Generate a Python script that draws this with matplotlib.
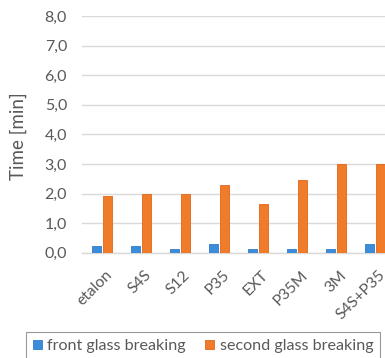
import matplotlib
matplotlib.use("Agg")
import matplotlib.pyplot as plt
import matplotlib.transforms as mtransforms
import numpy as np

categories = ["etalon", "S4S", "S12", "P35", "EXT", "P35M", "3M", "S4S+P35"]
front_glass = [0.23, 0.23, 0.13, 0.30, 0.13, 0.13, 0.13, 0.30]
second_glass = [1.90, 2.00, 2.00, 2.30, 1.65, 2.45, 3.00, 3.00]
y_ticks = [0, 1, 2, 3, 4, 5, 6, 7, 8]
series_names = ["front glass breaking", "second glass breaking"]

plt.rcParams["font.family"] = ["Lato", "DejaVu Sans"]
text_color = "#595959"
grid_color = "#D9D9D9"
blue = "#3B8CDB"
orange = "#F07C2A"

W, H = 385, 358
fig = plt.figure(figsize=(W / 100, H / 100), dpi=100)

# plot area runs past the right edge of the canvas
left_px, right_px = 82.4, 395.0
top_px, bottom_px = 16.0, 252.7
ax = fig.add_axes([left_px / W, 1 - bottom_px / H,
                   (right_px - left_px) / W, (bottom_px - top_px) / H])

x = np.arange(len(categories))
bw = 0.23
off = 0.14
ax.bar(x - off, front_glass, width=bw, color=blue, edgecolor="#2F7BC8",
       linewidth=0.6, zorder=3, label=series_names[0])
ax.bar(x + off, second_glass, width=bw, color=orange, edgecolor="#E0661C",
       linewidth=0.6, zorder=3, label=series_names[1])

ax.set_xlim(-0.5, len(categories) - 0.5)
ax.set_ylim(0, 8)
ax.set_yticks(y_ticks)
ax.set_yticklabels([f"{v:.1f}".replace(".", ",") for v in y_ticks])
ax.yaxis.grid(True, color=grid_color, linewidth=1.0, zorder=0)
ax.set_axisbelow(True)
for s in ["top", "right", "left"]:
    ax.spines[s].set_visible(False)
ax.spines["bottom"].set_color(grid_color)
ax.spines["bottom"].set_linewidth(1.0)

ax.tick_params(axis="y", length=0, pad=11, labelsize=11.5, labelcolor=text_color)
ax.tick_params(axis="x", length=0, pad=11, labelsize=11.3, labelcolor=text_color)
ax.set_xticks(x)
ax.set_xticklabels(categories, rotation=45, ha="right", va="top",
                   rotation_mode="anchor")
shift = mtransforms.ScaledTranslation(3 / 100, 0, fig.dpi_scale_trans)
for lbl in ax.get_xticklabels():
    lbl.set_transform(lbl.get_transform() + shift)

ax.set_ylabel("Time [min]", fontsize=13.5, color=text_color)
ax.yaxis.set_label_coords((27 - left_px) / (right_px - left_px), 0.491)

leg = fig.legend(loc="upper left", bbox_to_anchor=(26 / W, 1 - 332 / H),
                 ncol=2, frameon=True, fancybox=False, fontsize=11.6,
                 handlelength=0.55, handleheight=0.55, handletextpad=0.33,
                 columnspacing=1.2, borderpad=0.45, borderaxespad=0)
leg.get_frame().set_edgecolor("#808080")
leg.get_frame().set_linewidth(0.8)
for t in leg.get_texts():
    t.set_color(text_color)

fig.savefig("out.png", dpi=100)
